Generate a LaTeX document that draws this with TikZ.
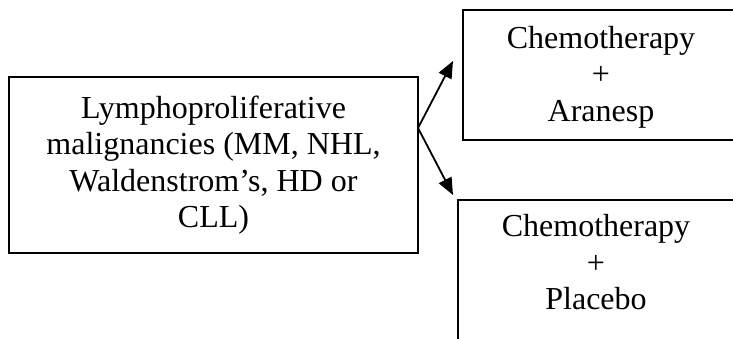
\documentclass[tikz,border=0pt]{standalone}
\usepackage{fontspec}
\setmainfont{Liberation Serif}
\usetikzlibrary{arrows.meta}
\tikzset{
  box/.style={draw=black, line width=1.8pt, rectangle, inner sep=0pt},
  txt/.style={align=center, inner sep=0pt, font=\fontsize{32pt}{36.5pt}\selectfont},
  arr/.style={line width=1.8pt, -{Triangle[length=17pt,width=14pt]}}
}
\begin{document}
\begin{tikzpicture}
\useasboundingbox (0,0) rectangle (733pt,-339pt);
\clip (0,0) rectangle (733pt,-339pt);
\node[box, txt, minimum width=409pt, minimum height=176pt] (main) at (213.5pt,-165pt)
  {Lymphoproliferative\\malignancies (MM, NHL,\\Waldenstrom’s, HD or\\CLL)};
\node[box, minimum width=278pt, minimum height=130pt, anchor=north west] (aran) at (462pt,-9pt) {};
\node[txt] (arantext) at (601pt,-77pt) {Chemotherapy\\+\\Aranesp};
\node[box, minimum width=278pt, minimum height=170pt, anchor=north west] (plac) at (457pt,-199pt) {};
\node[txt] (plactext) at (596pt,-262.5pt) {Chemotherapy\\+\\Placebo};
\coordinate (fork) at (418pt,-128pt);
\coordinate (tipA) at (453pt,-61pt);
\coordinate (tipB) at (453pt,-195pt);
\draw[arr] (fork) -- (tipA);
\draw[arr] (fork) -- (tipB);
\end{tikzpicture}
\end{document}
